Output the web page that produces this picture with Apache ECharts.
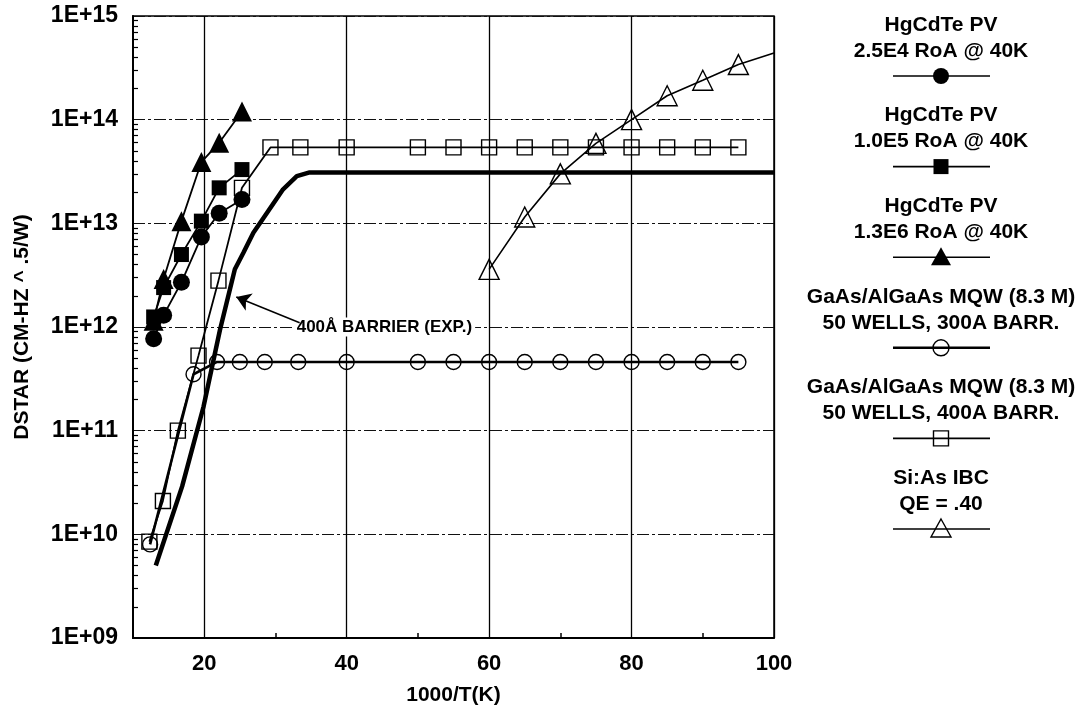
<!DOCTYPE html>
<html><head><meta charset="utf-8">
<script src="https://cdn.jsdelivr.net/npm/echarts/dist/echarts.min.js"></script>
<style>html,body{margin:0;padding:0;background:#fff}#c{width:1080px;height:708px}</style>
</head><body><div id="c"></div>
<script>
// ---- data ----
const xHg = [12.9, 14.3, 16.8, 19.6, 22.1, 25.3];
const hg25E4 = [7.7e11, 1.3e12, 2.7e12, 7.4e12, 1.25e13, 1.7e13];
const hg10E5 = [1.25e12, 2.4e12, 5.0e12, 1.05e13, 2.2e13, 3.3e13];
const hg13E6 = [1.15e12, 2.9e12, 1.05e13, 3.9e13, 6.0e13, 1.2e14];

const x300 = [12.4, 18.5, 21.8, 25, 28.5, 33.2, 40, 50, 55, 60, 65, 70, 75, 80, 85, 90, 95];
const y300 = [8e9, 3.5e11, 4.6e11, 4.6e11, 4.6e11, 4.6e11, 4.6e11, 4.6e11, 4.6e11, 4.6e11, 4.6e11, 4.6e11, 4.6e11, 4.6e11, 4.6e11, 4.6e11, 4.6e11];

const x400 = [12.3, 14.2, 16.3, 19.2, 22.0, 25.3, 29.3, 33.5, 40, 50, 55, 60, 65, 70, 75, 80, 85, 90, 95];
const y400 = [8.5e9, 2.1e10, 1.0e11, 5.3e11, 2.8e12, 2.2e13, 5.4e13, 5.4e13, 5.4e13, 5.4e13, 5.4e13, 5.4e13, 5.4e13, 5.4e13, 5.4e13, 5.4e13, 5.4e13, 5.4e13, 5.4e13];

const xExp = [13.2, 16.9, 19.9, 22.2, 24.3, 25.5, 26.9, 28.8, 31.0, 33.0, 34.8, 100];
const yExp = [5e9, 2.9e10, 1.7e11, 9.3e11, 3.6e12, 5.2e12, 8.1e12, 1.26e13, 2.1e13, 2.85e13, 3.1e13, 3.1e13];

const xSi = [60, 65, 70, 75, 80, 85, 90, 95, 100];
const ySi = [3.6e12, 1.15e13, 3.0e13, 5.9e13, 1.0e14, 1.7e14, 2.4e14, 3.4e14, 4.4e14];

const xTickLabels = [20, 40, 60, 80, 100];
const xMinorTicks = [30, 50, 70, 90];
const annotationText = '400Å BARRIER (EXP.)';
const legendLines = [
  ['HgCdTe PV', '2.5E4 RoA @ 40K'],
  ['HgCdTe PV', '1.0E5 RoA @ 40K'],
  ['HgCdTe PV', '1.3E6 RoA @ 40K'],
  ['GaAs/AlGaAs MQW (8.3 M)', '50 WELLS, 300A BARR.'],
  ['GaAs/AlGaAs MQW (8.3 M)', '50 WELLS, 400A BARR.'],
  ['Si:As IBC', 'QE = .40']
];
const legendSymbols = ['circle', 'rect', 'triangle', 'emptyCircle', 'emptyRect', 'emptyTriangle'];

// ---- helpers ----
function pts(xs, ys) { return xs.map((x, i) => [x, ys[i]]); }
const yMinor = [];
for (let e = 9; e < 15; e++) for (let m = 2; m <= 9; m++) yMinor.push(m * Math.pow(10, e));

const FONT = '"Liberation Sans", Arial, sans-serif';
const black = '#000';
const openItem = { color: 'rgba(0,0,0,0)', borderColor: black, borderWidth: 1.4 };

// ---- legend graphics ----
const LX = 941, LY0 = 25, LSTEP = 90.6;
const graphics = [];
legendLines.forEach((ln, i) => {
  const y = LY0 + i * LSTEP;
  graphics.push({ type: 'text', style: { text: ln[0], x: LX, y: y, textAlign: 'center', textVerticalAlign: 'middle', font: 'bold 21px ' + FONT, fill: black } });
  graphics.push({ type: 'text', style: { text: ln[1], x: LX, y: y + 26, textAlign: 'center', textVerticalAlign: 'middle', font: 'bold 21px ' + FONT, fill: black } });
  const sy = y + 51;
  graphics.push({ type: 'line', shape: { x1: 893, y1: sy, x2: 990, y2: sy }, style: { stroke: black, lineWidth: i === 3 ? 2.5 : 1.6 } });
  const s = legendSymbols[i];
  const filled = s.indexOf('empty') !== 0;
  const st = filled ? { fill: black } : { fill: 'rgba(0,0,0,0)', stroke: black, lineWidth: 1.4 };
  if (s.indexOf('ircle') > 0) graphics.push({ type: 'circle', shape: { cx: LX, cy: sy, r: 8 }, style: st });
  else if (s.indexOf('ect') > 0) graphics.push({ type: 'rect', shape: { x: LX - 7.5, y: sy - 7.5, width: 15, height: 15 }, style: st });
  else graphics.push({ type: 'polygon', shape: { points: [[LX, sy - 10], [LX + 10, sy + 8], [LX - 10, sy + 8]] }, style: st });
});

const chart = echarts.init(document.getElementById('c'));
chart.setOption({
  animation: false,
  backgroundColor: '#fff',
  grid: { left: 133, right: 306, top: 16, bottom: 70, containLabel: false, outerBoundsMode: 'none',
    show: true, borderColor: black, borderWidth: 1.5, backgroundColor: 'transparent' },
  xAxis: [{
    type: 'value', min: 10, max: 100, position: 'bottom',
    name: '1000/T(K)', nameLocation: 'middle', nameGap: 47,
    nameTextStyle: { fontFamily: FONT, fontSize: 21, fontWeight: 'bold', color: black },
    axisLine: { show: true, lineStyle: { color: black, width: 2 } },
    axisTick: { show: false, customValues: xTickLabels },
    axisLabel: { customValues: xTickLabels, fontFamily: FONT, fontSize: 22, fontWeight: 'bold', color: black, margin: 15 },
    splitLine: { show: true, lineStyle: { color: black, width: 1.3, type: 'solid' } }
  }, {
    type: 'value', min: 10, max: 100, position: 'bottom',
    axisLine: { show: false },
    axisTick: { show: true, inside: true, length: 5, customValues: xMinorTicks, lineStyle: { color: black, width: 1.5 } },
    axisLabel: { show: false },
    splitLine: { show: false }
  }],
  yAxis: [{
    type: 'log', logBase: 10, min: 1e9, max: 1e15, splitNumber: 6, position: 'left',
    name: 'DSTAR (CM-HZ ^ .5/W)', nameLocation: 'middle', nameGap: 100,
    nameTextStyle: { fontFamily: FONT, fontSize: 21, fontWeight: 'bold', color: black },
    axisLine: { show: true, lineStyle: { color: black, width: 2 } },
    axisTick: { show: false },
    axisLabel: {
      fontFamily: FONT, fontSize: 23, fontWeight: 'bold', color: black, margin: 15,
      formatter: v => { const e = Math.round(Math.log10(v)); return '1E+' + (e < 10 ? '0' + e : e); }
    },
    splitLine: { show: true, lineStyle: { color: '#111', width: 1, type: [12, 3, 3, 3] } }
  }, {
    type: 'log', logBase: 10, min: 1e9, max: 1e15, position: 'left',
    axisLine: { show: false },
    axisTick: { show: true, inside: true, length: 5, customValues: yMinor, lineStyle: { color: black, width: 1.2 } },
    axisLabel: { show: false },
    splitLine: { show: false }
  }],
  graphic: graphics,
  series: [
    { name: legendLines[0].join(' '), type: 'line', data: pts(xHg, hg25E4), symbol: 'circle', symbolSize: 17,
      itemStyle: { color: black }, lineStyle: { color: black, width: 1.8 }, z: 5 },
    { name: legendLines[1].join(' '), type: 'line', data: pts(xHg, hg10E5), symbol: 'rect', symbolSize: 15,
      itemStyle: { color: black }, lineStyle: { color: black, width: 1.8 }, z: 5 },
    { name: legendLines[2].join(' '), type: 'line', data: pts(xHg, hg13E6), symbol: 'triangle', symbolSize: 20,
      itemStyle: { color: black }, lineStyle: { color: black, width: 1.8 }, z: 5 },
    { name: legendLines[3].join(' '), type: 'line', data: pts(x300, y300), symbol: 'circle', symbolSize: 15,
      itemStyle: openItem, lineStyle: { color: black, width: 2.6 }, z: 4 },
    { name: legendLines[4].join(' '), type: 'line', data: pts(x400, y400), symbol: 'rect', symbolSize: 15,
      itemStyle: openItem, lineStyle: { color: black, width: 1.8 }, z: 4 },
    { name: annotationText, type: 'line', data: pts(xExp, yExp), symbol: 'none',
      lineStyle: { color: black, width: 4.5 }, z: 3,
      markLine: { silent: true, symbol: ['none', 'arrow'], symbolSize: 14, label: { show: false }, z: 6,
        lineStyle: { color: black, width: 1.5, type: 'solid' },
        data: [[{ coord: [33.4, 1.1e12] }, { coord: [24.5, 1.95e12] }]] },
      markPoint: { silent: true, symbol: 'rect', symbolSize: 1, itemStyle: { color: 'rgba(0,0,0,0)' },
        label: { show: true, position: 'inside', formatter: annotationText, color: black, fontFamily: FONT,
          fontSize: 17, fontWeight: 'bold', backgroundColor: '#fff', padding: [1, 3] },
        data: [{ coord: [45.3, 1e12] }] } },
    { name: legendLines[5].join(' '), type: 'line',
      data: xSi.map((x, i) => i === xSi.length - 1 ? { value: [x, ySi[i]], symbol: 'none' } : [x, ySi[i]]),
      symbol: 'triangle', symbolSize: 20, itemStyle: openItem, lineStyle: { color: black, width: 1.6 }, z: 4 }
  ]
});
</script></body></html>
